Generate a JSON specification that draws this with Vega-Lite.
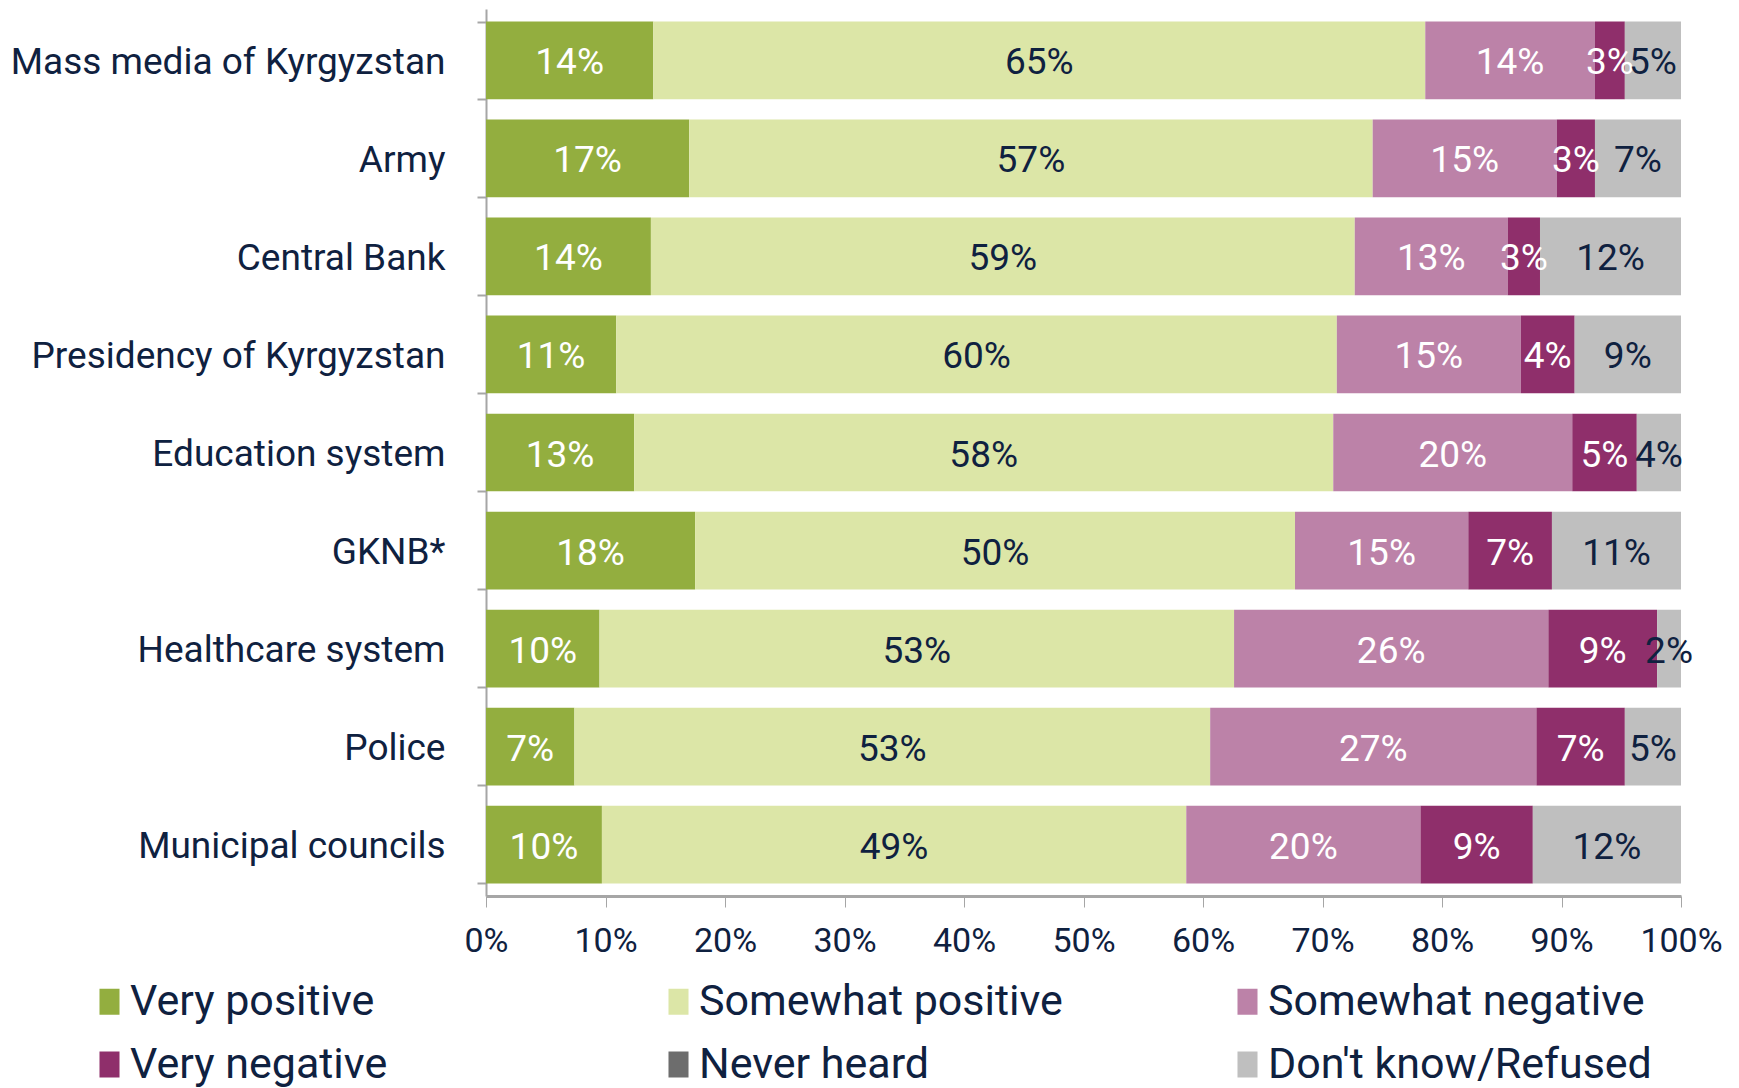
{
  "$schema": "https://vega.github.io/schema/vega-lite/v6.json",
  "autosize": "none",
  "width": 1195,
  "height": 887,
  "padding": {"left": 486, "top": 9, "right": 58, "bottom": 192},
  "background": "white",
  "config": {
    "view": {"stroke": null},
    "font": "Roboto",
    "axis": {"grid": false}
  },
  "data": {
    "values": [
      {"institution": "Mass media of Kyrgyzstan", "response": "Very positive", "ord": 1, "value": 14.0, "label": "14%"},
      {"institution": "Mass media of Kyrgyzstan", "response": "Somewhat positive", "ord": 2, "value": 64.6, "label": "65%"},
      {"institution": "Mass media of Kyrgyzstan", "response": "Somewhat negative", "ord": 3, "value": 14.2, "label": "14%"},
      {"institution": "Mass media of Kyrgyzstan", "response": "Very negative", "ord": 4, "value": 2.5, "label": "3%"},
      {"institution": "Mass media of Kyrgyzstan", "response": "Don't know/Refused", "ord": 6, "value": 4.7, "label": "5%"},
      {"institution": "Army", "response": "Very positive", "ord": 1, "value": 17.0, "label": "17%"},
      {"institution": "Army", "response": "Somewhat positive", "ord": 2, "value": 57.2, "label": "57%"},
      {"institution": "Army", "response": "Somewhat negative", "ord": 3, "value": 15.4, "label": "15%"},
      {"institution": "Army", "response": "Very negative", "ord": 4, "value": 3.2, "label": "3%"},
      {"institution": "Army", "response": "Don't know/Refused", "ord": 6, "value": 7.2, "label": "7%"},
      {"institution": "Central Bank", "response": "Very positive", "ord": 1, "value": 13.8, "label": "14%"},
      {"institution": "Central Bank", "response": "Somewhat positive", "ord": 2, "value": 58.9, "label": "59%"},
      {"institution": "Central Bank", "response": "Somewhat negative", "ord": 3, "value": 12.8, "label": "13%"},
      {"institution": "Central Bank", "response": "Very negative", "ord": 4, "value": 2.7, "label": "3%"},
      {"institution": "Central Bank", "response": "Don't know/Refused", "ord": 6, "value": 11.8, "label": "12%"},
      {"institution": "Presidency of Kyrgyzstan", "response": "Very positive", "ord": 1, "value": 10.9, "label": "11%"},
      {"institution": "Presidency of Kyrgyzstan", "response": "Somewhat positive", "ord": 2, "value": 60.3, "label": "60%"},
      {"institution": "Presidency of Kyrgyzstan", "response": "Somewhat negative", "ord": 3, "value": 15.4, "label": "15%"},
      {"institution": "Presidency of Kyrgyzstan", "response": "Very negative", "ord": 4, "value": 4.5, "label": "4%"},
      {"institution": "Presidency of Kyrgyzstan", "response": "Don't know/Refused", "ord": 6, "value": 8.9, "label": "9%"},
      {"institution": "Education system", "response": "Very positive", "ord": 1, "value": 12.4, "label": "13%"},
      {"institution": "Education system", "response": "Somewhat positive", "ord": 2, "value": 58.5, "label": "58%"},
      {"institution": "Education system", "response": "Somewhat negative", "ord": 3, "value": 20.0, "label": "20%"},
      {"institution": "Education system", "response": "Very negative", "ord": 4, "value": 5.4, "label": "5%"},
      {"institution": "Education system", "response": "Don't know/Refused", "ord": 6, "value": 3.7, "label": "4%"},
      {"institution": "GKNB*", "response": "Very positive", "ord": 1, "value": 17.5, "label": "18%"},
      {"institution": "GKNB*", "response": "Somewhat positive", "ord": 2, "value": 50.2, "label": "50%"},
      {"institution": "GKNB*", "response": "Somewhat negative", "ord": 3, "value": 14.5, "label": "15%"},
      {"institution": "GKNB*", "response": "Very negative", "ord": 4, "value": 7.0, "label": "7%"},
      {"institution": "GKNB*", "response": "Don't know/Refused", "ord": 6, "value": 10.8, "label": "11%"},
      {"institution": "Healthcare system", "response": "Very positive", "ord": 1, "value": 9.5, "label": "10%"},
      {"institution": "Healthcare system", "response": "Somewhat positive", "ord": 2, "value": 53.1, "label": "53%"},
      {"institution": "Healthcare system", "response": "Somewhat negative", "ord": 3, "value": 26.3, "label": "26%"},
      {"institution": "Healthcare system", "response": "Very negative", "ord": 4, "value": 9.1, "label": "9%"},
      {"institution": "Healthcare system", "response": "Don't know/Refused", "ord": 6, "value": 2.0, "label": "2%"},
      {"institution": "Police", "response": "Very positive", "ord": 1, "value": 7.4, "label": "7%"},
      {"institution": "Police", "response": "Somewhat positive", "ord": 2, "value": 53.2, "label": "53%"},
      {"institution": "Police", "response": "Somewhat negative", "ord": 3, "value": 27.3, "label": "27%"},
      {"institution": "Police", "response": "Very negative", "ord": 4, "value": 7.4, "label": "7%"},
      {"institution": "Police", "response": "Don't know/Refused", "ord": 6, "value": 4.7, "label": "5%"},
      {"institution": "Municipal councils", "response": "Very positive", "ord": 1, "value": 9.7, "label": "10%"},
      {"institution": "Municipal councils", "response": "Somewhat positive", "ord": 2, "value": 48.9, "label": "49%"},
      {"institution": "Municipal councils", "response": "Somewhat negative", "ord": 3, "value": 19.6, "label": "20%"},
      {"institution": "Municipal councils", "response": "Very negative", "ord": 4, "value": 9.4, "label": "9%"},
      {"institution": "Municipal councils", "response": "Don't know/Refused", "ord": 6, "value": 12.4, "label": "12%"}
    ]
  },
  "encoding": {
    "y": {
      "field": "institution",
      "type": "nominal",
      "sort": null,
      "title": null,
      "scale": {"paddingInner": 0.207, "paddingOuter": 0.128},
      "axis": {
        "tickBand": "extent",
        "domainColor": "#A6A6A6",
        "domainWidth": 2,
        "tickColor": "#A6A6A6",
        "tickWidth": 2,
        "tickSize": 9,
        "labelFontSize": 37,
        "labelColor": "#0F2140",
        "labelPadding": 32,
        "labelOffset": 2,
        "labelLimit": 600
      }
    }
  },
  "layer": [
    {
      "mark": {"type": "bar"},
      "encoding": {
        "x": {
          "field": "value",
          "type": "quantitative",
          "stack": "zero",
          "title": null,
          "scale": {"domain": [0, 100], "nice": false},
          "axis": {
            "values": [0, 10, 20, 30, 40, 50, 60, 70, 80, 90, 100],
            "labelExpr": "datum.value + '%'",
            "domainColor": "#A6A6A6",
            "domainWidth": 3,
            "tickColor": "#A6A6A6",
            "tickWidth": 1,
            "tickSize": 11,
            "labelFontSize": 34,
            "labelColor": "#0F2140",
            "labelPadding": 17,
            "labelFlush": false,
            "labelOverlap": false
          }
        },
        "color": {
          "field": "response",
          "type": "nominal",
          "scale": {
            "domain": ["Very positive", "Somewhat positive", "Somewhat negative", "Very negative", "Never heard", "Don't know/Refused"],
            "range": ["#93AE3F", "#DCE6A7", "#BC82A8", "#8F2F6B", "#6D6D6D", "#BFBFBF"]
          },
          "legend": {
            "title": null,
            "orient": "none",
            "legendX": -398,
            "legendY": 971,
            "direction": "horizontal",
            "columns": 3,
            "gridAlign": "all",
            "columnPadding": 143,
            "rowPadding": 19,
            "padding": 0,
            "symbolType": "M-0.77,-1H0.77V1H-0.77Z",
            "symbolSize": 676,
            "symbolStrokeWidth": 0,
            "symbolOpacity": 1,
            "labelFontSize": 43,
            "labelColor": "#0F2140",
            "labelOffset": -1,
            "labelLimit": 600
          }
        },
        "order": {"field": "ord"}
      }
    },
    {
      "mark": {"type": "text", "fontSize": 37, "baseline": "middle", "align": "center", "dy": 3},
      "encoding": {
        "x": {"field": "value", "type": "quantitative", "stack": "zero", "bandPosition": 0.5},
        "detail": {"field": "response"},
        "order": {"field": "ord"},
        "text": {"field": "label"},
        "color": {
          "condition": {"test": "datum.response === 'Somewhat positive' || datum.response === \"Don't know/Refused\"", "value": "#0F2140"},
          "value": "white"
        }
      }
    }
  ]
}
